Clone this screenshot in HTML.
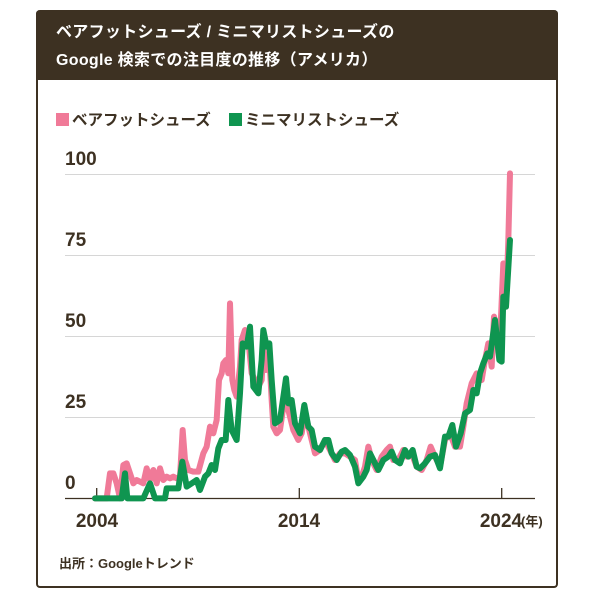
<!DOCTYPE html>
<html><head><meta charset="utf-8"><style>
body{margin:0;width:600px;height:600px;background:#fff;overflow:hidden;font-family:"Liberation Sans","Noto Sans CJK JP",sans-serif;}
.card{position:absolute;left:36px;top:10px;width:522px;height:578px;border:2px solid #3d3122;border-top:none;border-radius:4px;box-sizing:border-box;}
.hd{position:absolute;left:36px;top:10px;width:522px;height:70px;background:#3d3122;border-radius:4px 4px 0 0;color:#fff;font-weight:bold;font-size:16px;line-height:28px;padding:9px 0 0 20px;box-sizing:border-box;letter-spacing:0.3px;}
.lg{position:absolute;top:108px;font-size:15.5px;font-weight:bold;color:#3d3122;}
.sq{display:inline-block;width:13px;height:13px;vertical-align:-1px;margin-right:3px;}
</style></head><body>
<div class="card"></div>
<div class="hd">ベアフットシューズ / ミニマリストシューズの<br>Google 検索での注目度の推移（アメリカ）</div>
<div class="lg" style="left:56px"><span class="sq" style="background:#f07a98"></span>ベアフットシューズ</div>
<div class="lg" style="left:229px"><span class="sq" style="background:#0f9550"></span>ミニマリストシューズ</div>
<svg width="600" height="600" style="position:absolute;left:0;top:0">
<g stroke="#d6d6d6" stroke-width="1">
<line x1="65" x2="535" y1="174.5" y2="174.5"/><line x1="65" x2="535" y1="255.5" y2="255.5"/><line x1="65" x2="535" y1="336.5" y2="336.5"/><line x1="65" x2="535" y1="417.5" y2="417.5"/>
</g>
<g stroke="#3d3122" stroke-width="1.3"><line x1="65" x2="535" y1="498.5" y2="498.5"/>
<line x1="96.7" x2="96.7" y1="488" y2="498"/><line x1="299.3" x2="299.3" y1="488" y2="498"/><line x1="501.7" x2="501.7" y1="488" y2="498"/></g>
<g font-size="19" font-weight="bold" fill="#3d3122">
<text x="65" y="165">100</text><text x="65" y="246">75</text><text x="65" y="327">50</text><text x="65" y="408">25</text><text x="65" y="489">0</text>
<text x="97" y="527" text-anchor="middle">2004</text><text x="299" y="527" text-anchor="middle">2014</text><text x="501" y="527" text-anchor="middle">2024</text>
<text x="521" y="526" font-size="13">(年)</text>
</g>
<text x="59" y="568" font-size="13" font-weight="bold" fill="#3d3122">出所：Googleトレンド</text>
<g transform="translate(40,140) scale(0.33333)" fill="none" stroke-width="18" stroke-linejoin="round" stroke-linecap="round">
<polyline stroke="#f07a98" points="165,1075 200,1075 210,1000 220,1000 230,1030 240,1075 250,975 260,970 270,1000 280,1030 290,1020 300,1025 310,1030 320,985 330,1020 340,990 350,1030 360,985 370,1020 380,1010 390,1015 400,1010 410,1015 420,1010 428,870 435,960 445,990 460,995 475,995 490,940 500,920 510,860 520,880 530,840 537,720 545,700 550,670 558,660 565,700 570,490 577,720 583,750 590,770 600,680 605,600 615,570 625,600 635,700 645,720 655,740 665,720 670,620 678,690 688,650 695,780 700,860 710,880 720,870 730,800 740,790 750,830 760,870 775,900 785,880 795,820 805,860 815,900 825,940 840,930 855,900 870,930 885,960 900,940 915,940 930,950 945,960 955,1020 965,1010 975,980 985,920 995,960 1010,990 1025,950 1040,930 1050,920 1060,960 1075,960 1090,930 1100,950 1115,940 1130,980 1145,990 1160,960 1172,920 1185,950 1200,980 1215,900 1230,880 1245,920 1260,920 1270,860 1280,790 1295,730 1310,700 1325,720 1335,660 1345,610 1355,680 1362,530 1370,560 1380,600 1390,370 1398,500 1405,300 1410,100"/>
<polyline stroke="#0f9550" points="165,1075 245,1075 255,1000 262,1075 310,1075 330,1030 345,1075 375,1075 380,1045 415,1045 427,965 440,1040 455,1030 470,1020 480,1050 495,1010 505,1000 515,975 525,990 535,925 545,900 557,900 565,780 575,870 590,900 600,760 608,610 620,620 630,560 640,740 655,760 665,660 670,570 680,620 688,610 695,720 705,850 720,840 738,715 745,790 755,780 765,850 780,880 793,795 805,860 815,870 825,920 840,930 855,900 865,900 875,940 890,960 905,935 915,930 930,945 945,980 955,1030 970,1010 980,990 990,940 1000,960 1015,990 1030,960 1045,950 1055,935 1065,960 1080,970 1095,930 1105,950 1118,930 1130,980 1140,985 1155,970 1170,950 1185,945 1200,985 1215,890 1225,890 1237,855 1248,920 1262,880 1275,820 1290,810 1300,750 1310,760 1320,700 1330,670 1342,640 1350,650 1365,540 1378,660 1385,665 1390,470 1398,500 1410,300"/>
</g>
</svg>
</body></html>
